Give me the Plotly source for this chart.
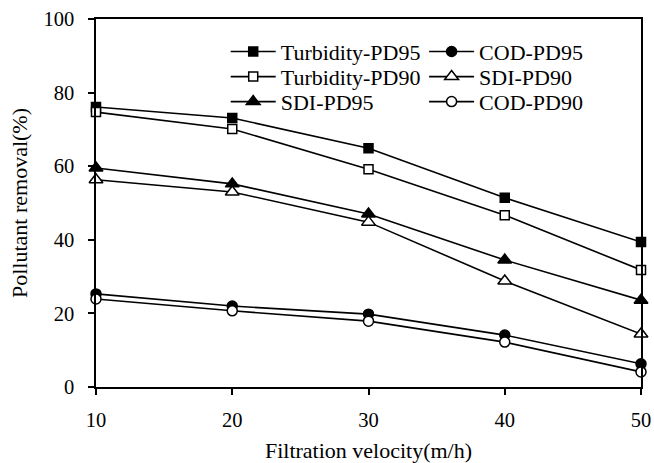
import plotly.graph_objects as go

velocity = [10, 20, 30, 40, 50]
turb_pd95 = [76.1, 73.1, 64.9, 51.4, 39.4]
turb_pd90 = [74.7, 70.1, 59.2, 46.7, 31.8]
sdi_pd95 = [59.5, 55.2, 47.0, 34.5, 23.6]
sdi_pd90 = [56.3, 53.0, 44.8, 28.8, 14.4]
cod_pd95 = [25.3, 22.0, 19.8, 14.1, 6.3]
cod_pd90 = [23.9, 20.7, 17.9, 12.2, 4.1]

FONT = "Liberation Serif"

# (name, values, symbol, size, fill, legend id, legend x, legend y)
series = [
    ("Turbidity-PD95", turb_pd95, "square", 9, "black", "legend", 0.238, 0.911),
    ("Turbidity-PD90", turb_pd90, "square", 9, "white", "legend2", 0.238, 0.843),
    ("SDI-PD95", sdi_pd95, "triangle-up", 12, "black", "legend3", 0.238, 0.775),
    ("COD-PD95", cod_pd95, "circle", 10, "black", "legend4", 0.602, 0.911),
    ("SDI-PD90", sdi_pd90, "triangle-up", 12, "white", "legend5", 0.602, 0.843),
    ("COD-PD90", cod_pd90, "circle", 10, "white", "legend6", 0.602, 0.775),
]

fig = go.Figure()
legends = {}
for name, vals, sym, sz, fill, leg, lx, ly in series:
    fig.add_trace(go.Scatter(
        x=velocity, y=vals, name=name, mode="lines+markers",
        line=dict(color="black", width=1.6),
        marker=dict(symbol=sym, size=sz, color=fill,
                    line=dict(color="black", width=1.5)),
        legend=leg, cliponaxis=False,
    ))
    legends[leg] = dict(
        x=lx, y=ly, xanchor="left", yanchor="middle",
        font=dict(family=FONT, size=22, color="black"),
        bgcolor="rgba(0,0,0,0)", borderwidth=0, itemwidth=45,
    )

fig.update_layout(
    width=654, height=463,
    margin=dict(l=96, r=13, t=19, b=76, autoexpand=False),
    paper_bgcolor="white", plot_bgcolor="white",
    font=dict(family=FONT, size=21, color="black"),
    showlegend=True,
    **legends,
    xaxis=dict(
        range=[10, 50], tickvals=[10, 20, 30, 40, 50],
        showgrid=False, zeroline=False, automargin=False,
        showline=True, linecolor="black", linewidth=1.5, mirror=True,
        ticks="outside", ticklen=6, tickwidth=1.5, tickcolor="black",
        ticklabelstandoff=8,
        tickfont=dict(family=FONT, size=20.5, color="black"),
        title=dict(text="Filtration velocity(m/h)", font=dict(family=FONT, size=22, color="black"), standoff=13),
    ),
    yaxis=dict(
        range=[0, 100], tickvals=[0, 20, 40, 60, 80, 100],
        showgrid=False, zeroline=False, automargin=False,
        showline=True, linecolor="black", linewidth=1.5, mirror=True,
        ticks="outside", ticklen=6, tickwidth=1.5, tickcolor="black",
        ticklabelstandoff=10,
        tickfont=dict(family=FONT, size=20.5, color="black"),
        title=dict(text="Pollutant removal(%)", font=dict(family=FONT, size=22, color="black"), standoff=10),
    ),
)

fig.write_html("out.html")
